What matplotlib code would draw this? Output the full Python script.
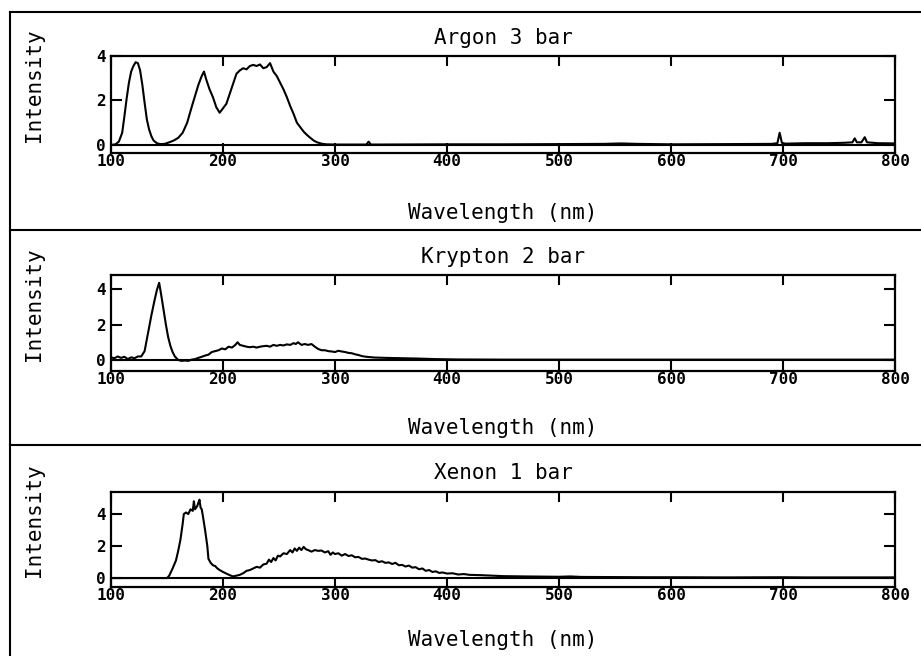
import matplotlib.pyplot as plt
from matplotlib.lines import Line2D

# Argon 3 bar
wl_ar = [100, 104, 107, 110, 112, 114, 116, 118, 120, 122, 124, 126, 128, 130,
         132, 134, 136, 138, 141, 144, 148, 152, 156, 160, 164, 168, 172, 175,
         178, 181, 183, 185, 188, 191, 194, 197, 200, 203, 206, 209, 212, 215,
         218, 221, 224, 227, 230, 233, 236, 239, 242, 245, 248, 251, 254, 257,
         260, 263, 266, 269, 272, 275, 278, 281, 284, 288, 292, 300, 320, 328,
         330, 332, 340, 400, 450, 500, 540, 555, 570, 600, 650, 690, 695, 697,
         699, 702, 720, 740, 755, 762, 764, 766, 770, 773, 775, 785, 800]
int_ar = [0, 0.03, 0.15, 0.55, 1.3, 2.1, 2.8, 3.3, 3.55, 3.72, 3.68, 3.35, 2.7, 1.9,
          1.15, 0.7, 0.4, 0.2, 0.08, 0.04, 0.05, 0.12, 0.2, 0.32, 0.55, 1.0, 1.7, 2.2,
          2.7, 3.1, 3.3, 2.95, 2.5, 2.15, 1.7, 1.45, 1.65, 1.85, 2.3, 2.75, 3.2, 3.35,
          3.45, 3.4, 3.55, 3.6, 3.55, 3.62, 3.45, 3.5, 3.68, 3.3, 3.1, 2.8, 2.5, 2.15,
          1.75, 1.4, 1.0, 0.8, 0.6, 0.45, 0.32, 0.2, 0.12, 0.06, 0.03, 0.02, 0.02, 0.02,
          0.15, 0.02, 0.02, 0.03, 0.03, 0.04, 0.05, 0.07, 0.05, 0.03, 0.04, 0.05, 0.08, 0.55,
          0.1, 0.06, 0.08, 0.08, 0.1, 0.12, 0.3, 0.12, 0.12, 0.35, 0.12, 0.08, 0.07]

# Krypton 2 bar
wl_kr = [100, 103, 106, 109, 112, 115, 118, 121, 124, 127, 130, 133, 136, 139,
         141, 143, 145, 147, 149, 151, 153, 155, 157, 160, 163, 166, 169, 172,
         175, 178, 181, 184, 187, 190, 193, 196, 199, 202, 205, 208, 211, 213,
         215, 218, 221, 224, 227, 230, 233, 236, 239, 242, 245, 248, 251, 254,
         257, 260, 263, 265, 267, 270, 273, 276, 279, 282, 285, 288, 291, 294,
         297, 300, 303, 306, 309, 312, 315, 318, 321, 324, 328, 335, 345, 360,
         375, 390, 410, 450, 500, 600, 700, 800]
int_kr = [0.15, 0.1, 0.2, 0.12, 0.18, 0.05, 0.15, 0.1, 0.2, 0.2, 0.5, 1.5, 2.5, 3.4,
          3.95, 4.35, 3.6, 2.8, 2.0, 1.3, 0.8, 0.45, 0.2, 0.0, -0.05, -0.03, -0.05, 0.02,
          0.05, 0.12, 0.18, 0.25, 0.3, 0.45, 0.5, 0.55, 0.65, 0.6, 0.75, 0.7, 0.85, 1.0,
          0.85, 0.8, 0.75, 0.72, 0.75, 0.7, 0.75, 0.78, 0.8, 0.75, 0.85, 0.8, 0.85, 0.82,
          0.88, 0.85, 0.95, 0.9, 1.0, 0.85, 0.9, 0.85, 0.9, 0.75, 0.62, 0.55, 0.55, 0.5,
          0.48, 0.45, 0.52, 0.48, 0.45, 0.4, 0.38, 0.32, 0.28, 0.22, 0.18, 0.14, 0.12, 0.1,
          0.08, 0.05, 0.03, 0.02, 0.02, 0.02, 0.02, 0.02]

# Xenon 1 bar
wl_xe = [100, 150, 152, 155, 158, 160, 162, 164, 165, 167, 169, 171, 173, 174,
         175, 177, 178, 179, 180, 181, 182, 184, 186, 187, 189, 191, 193, 195,
         197, 200, 203, 206, 209, 212, 215, 218, 221, 224, 227, 230, 233, 236,
         239, 241, 243, 245, 247, 249, 251, 254, 257, 260, 262, 264, 266, 268,
         270, 272, 274, 276, 279, 282, 285, 288, 291, 294, 296, 298, 300, 303,
         306, 309, 312, 315, 318, 321, 324, 327, 330, 333, 336, 339, 342, 345,
         348, 351, 354, 357, 360, 363, 366, 369, 372, 375, 378, 381, 384, 387,
         390, 393, 396, 400, 405, 410, 415, 420, 430, 440, 450, 470, 500, 510,
         520, 550, 580, 600, 650, 700, 720, 750, 780, 800]
int_xe = [0, 0, 0.15, 0.6, 1.1, 1.7, 2.4, 3.4, 4.0, 4.1, 4.0, 4.3, 4.2, 4.8,
          4.3, 4.5, 4.7, 4.9, 4.4, 4.3, 3.9, 3.0, 2.0, 1.2, 0.95, 0.8, 0.75, 0.6,
          0.5, 0.38, 0.28, 0.18, 0.1, 0.15, 0.2, 0.3, 0.45, 0.5, 0.6, 0.7, 0.65, 0.85,
          0.9, 1.15, 1.0, 1.25, 1.1, 1.4, 1.35, 1.55, 1.5, 1.75, 1.6, 1.85, 1.7, 1.9,
          1.75, 1.95, 1.8, 1.75, 1.65, 1.75, 1.7, 1.72, 1.6, 1.68, 1.45, 1.6, 1.5, 1.55,
          1.4, 1.5, 1.38, 1.42, 1.3, 1.32, 1.2, 1.22, 1.15, 1.1, 1.12, 1.0, 1.05, 0.95,
          0.98, 0.88, 0.95, 0.8, 0.82, 0.72, 0.78, 0.65, 0.68, 0.55, 0.6, 0.45, 0.5, 0.38,
          0.42, 0.32, 0.35, 0.28, 0.3, 0.22, 0.25, 0.2, 0.18, 0.15, 0.12, 0.1, 0.08, 0.1,
          0.07, 0.06, 0.05, 0.05, 0.04, 0.05, 0.04, 0.04, 0.04, 0.04]

titles = ['Argon 3 bar', 'Krypton 2 bar', 'Xenon 1 bar']
xticks = [100, 200, 300, 400, 500, 600, 700, 800]
yticks = [0, 2, 4]

W, H = 921, 656
mono = 'DejaVu Sans Mono'

fig = plt.figure(figsize=(W / 100, H / 100), dpi=100)

# axes boxes in pixels: (top, bottom) and y-limits
boxes = [(56, 153), (275, 371), (492, 587)]
ylims = [(-0.36, 4.0), (-0.62, 4.79), (-0.56, 5.38)]
title_y = [38, 257, 473]
xlab_y = [213, 428, 640]
ylab_y = [85, 304, 520]
left, right = 111, 895

series = [(wl_ar, int_ar), (wl_kr, int_kr), (wl_xe, int_xe)]

for i, (wl, inten) in enumerate(series):
    top, bot = boxes[i]
    ax = fig.add_axes([left / W, 1 - bot / H, (right - left) / W, (bot - top) / H])
    ax.plot(wl, inten, color='black', lw=1.5)
    ax.axhline(0, color='black', lw=1.5)
    ax.set_xlim(100, 800)
    ax.set_ylim(*ylims[i])
    ax.set_xticks(xticks)
    ax.set_yticks(yticks)
    ax.set_xticklabels([str(t) for t in xticks], fontfamily=mono,
                       fontweight='bold', fontsize=11.5)
    ax.set_yticklabels([str(t) for t in yticks], fontfamily=mono,
                       fontweight='bold', fontsize=11.5)
    ax.tick_params(axis='x', direction='in', top=True, length=7, width=1.5, pad=1)
    ax.tick_params(axis='y', direction='in', right=True, length=8, width=1.5, pad=4)
    for s in ax.spines.values():
        s.set_linewidth(1.6)

    fig.text((left + right) / 2 / W, 1 - title_y[i] / H, titles[i],
             fontfamily=mono, fontsize=15, ha='center', va='center')
    fig.text((left + right) / 2 / W, 1 - xlab_y[i] / H, 'Wavelength (nm)',
             fontfamily=mono, fontsize=15, ha='center', va='center')
    fig.text(34 / W, 1 - ylab_y[i] / H, 'Intensity', rotation=90,
             fontfamily=mono, fontsize=15, ha='center', va='center')

# outer frame and panel separators
for y in [12, 230, 445]:
    fig.add_artist(Line2D([10 / W, 1], [1 - y / H, 1 - y / H],
                          transform=fig.transFigure, color='black', lw=1.5))
fig.add_artist(Line2D([10 / W, 10 / W], [1 - 12 / H, 0],
                      transform=fig.transFigure, color='black', lw=1.5))

fig.savefig('out.png', dpi=100)
